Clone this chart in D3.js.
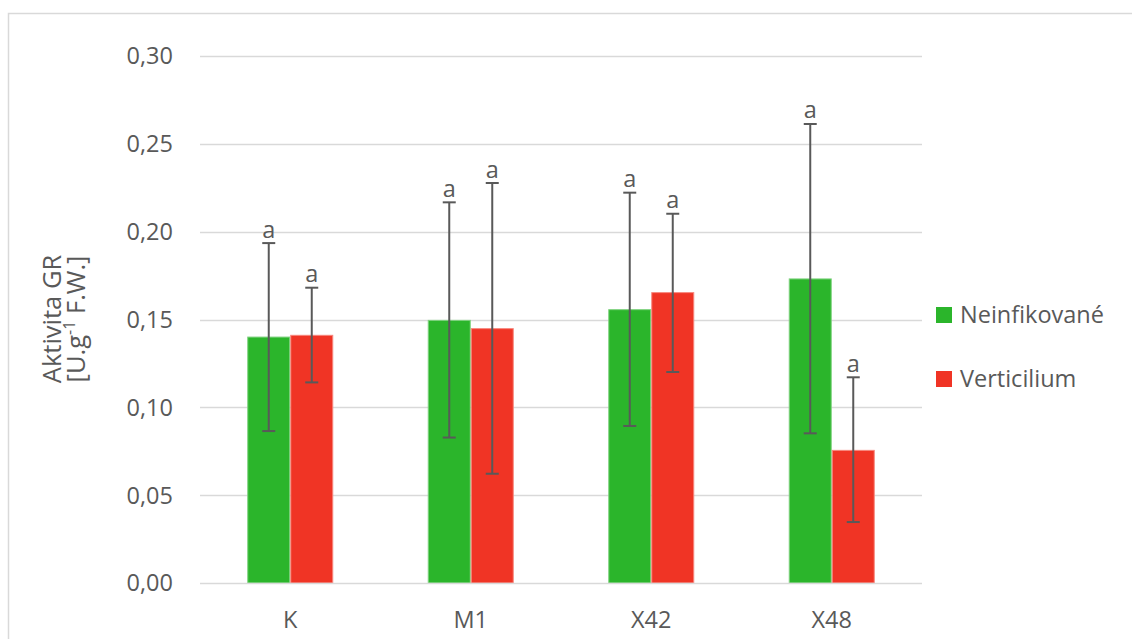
<!DOCTYPE html>
<html>
<head>
<meta charset="utf-8">
<script src="https://cdn.jsdelivr.net/npm/d3@7/dist/d3.min.js"></script>
<style>
  html, body { margin: 0; padding: 0; background: #fff; }
  svg { display: block; }
  text { font-family: "Open Sans", "Noto Sans", sans-serif; fill: #595959; }
</style>
</head>
<body>
<svg id="chart" width="1132" height="639"></svg>
<script>
// Glutathione reductase activity per line, uninfected vs. Verticillium
const categories = ["K", "M1", "X42", "X48"];
const seriesNames = ["Neinfikované", "Verticilium"];
const neinfMean = [0.140, 0.1495, 0.1556, 0.1731];
const neinfLow  = [0.0865, 0.0828, 0.0894, 0.0852];
const neinfHigh = [0.1935, 0.2167, 0.2222, 0.2613];
const vertMean  = [0.141, 0.1448, 0.1653, 0.0755];
const vertLow   = [0.1142, 0.0622, 0.1201, 0.0347];
const vertHigh  = [0.1681, 0.2277, 0.2102, 0.1171];
const sigLetters = [["a", "a", "a", "a"], ["a", "a", "a", "a"]];
const yTicks = [0, 0.05, 0.10, 0.15, 0.20, 0.25, 0.30];

const colors = ["#2bb52b", "#f03425"];
const edgeColors = ["#7fd27f", "#f7877d"];
const FS = 23.5;

const svg = d3.select("#chart");

// outer chart frame
svg.append("rect")
  .attr("x", 8.5).attr("y", 13.5)
  .attr("width", 1140).attr("height", 640)
  .attr("fill", "none").attr("stroke", "#d9d9d9").attr("stroke-width", 1.5);

const plot = { left: 200, right: 922, top: 56, bottom: 583 };

const y = d3.scaleLinear().domain([0, 0.30]).range([plot.bottom, plot.top]);
const x = d3.scaleBand().domain(categories).range([plot.left, plot.right])
  .paddingInner(0.5235).paddingOuter(0.5235 / 2);
const xs = d3.scaleBand().domain(seriesNames).range([0, x.bandwidth()]);

// gridlines
svg.append("g").selectAll("line").data(yTicks.slice(1)).join("line")
  .attr("x1", plot.left).attr("x2", plot.right)
  .attr("y1", d => Math.round(y(d)) + 0.5).attr("y2", d => Math.round(y(d)) + 0.5)
  .attr("stroke", "#d9d9d9").attr("stroke-width", 1.5);

// y tick labels
const fmt = d => d3.format(".2f")(d).replace(".", ",");
svg.append("g").selectAll("text").data(yTicks).join("text")
  .attr("x", 173).attr("y", d => y(d))
  .attr("dy", "0.36em")
  .attr("text-anchor", "end")
  .attr("font-size", FS)
  .text(fmt);

// series data
const series = [
  { name: seriesNames[0], mean: neinfMean, low: neinfLow, high: neinfHigh, letters: sigLetters[0] },
  { name: seriesNames[1], mean: vertMean, low: vertLow, high: vertHigh, letters: sigLetters[1] }
];
const rowsOf = s => categories.map((c, i) => ({ c, m: s.mean[i], lo: s.low[i], hi: s.high[i], l: s.letters[i] }));

series.forEach((s, si) => {
  svg.append("g").selectAll("rect").data(rowsOf(s)).join("rect")
    .attr("x", d => x(d.c) + xs(s.name) + 0.5)
    .attr("y", d => y(d.m))
    .attr("width", xs.bandwidth() - 1)
    .attr("height", d => y(0) - y(d.m))
    .attr("fill", colors[si])
    .attr("stroke", edgeColors[si]).attr("stroke-width", 1);
});

// x axis baseline
svg.append("line")
  .attr("x1", plot.left).attr("x2", plot.right)
  .attr("y1", plot.bottom + 0.5).attr("y2", plot.bottom + 0.5)
  .attr("stroke", "#d9d9d9").attr("stroke-width", 1.5);

// error bars and significance letters
series.forEach(s => {
  const g = svg.append("g");
  const rows = rowsOf(s);
  const cx = d => x(d.c) + xs(s.name) + xs.bandwidth() / 2;
  g.selectAll("line.v").data(rows).join("line").attr("class", "v")
    .attr("x1", cx).attr("x2", cx)
    .attr("y1", d => y(d.lo)).attr("y2", d => y(d.hi))
    .attr("stroke", "#595959").attr("stroke-width", 2);
  ["lo", "hi"].forEach(k => {
    g.selectAll("line." + k).data(rows).join("line").attr("class", k)
      .attr("x1", d => cx(d) - 6.5).attr("x2", d => cx(d) + 6.5)
      .attr("y1", d => y(d[k])).attr("y2", d => y(d[k]))
      .attr("stroke", "#595959").attr("stroke-width", 2);
  });
  g.selectAll("text").data(rows).join("text")
    .attr("x", cx)
    .attr("y", d => y(d.hi) - 5.5)
    .attr("text-anchor", "middle")
    .attr("font-size", FS)
    .text(d => d.l);
});

// category labels
svg.append("g").selectAll("text").data(categories).join("text")
  .attr("x", d => x(d) + x.bandwidth() / 2)
  .attr("y", 628)
  .attr("text-anchor", "middle")
  .attr("font-size", FS)
  .text(d => d);

// y axis title (two lines, rotated)
const TS = 25.5;
svg.append("text")
  .attr("transform", "translate(61,319) rotate(-90)")
  .attr("text-anchor", "middle")
  .attr("font-size", TS)
  .text("Aktivita GR");
const l2 = svg.append("text")
  .attr("transform", "translate(85,319) rotate(-90)")
  .attr("text-anchor", "middle")
  .attr("font-size", TS);
l2.append("tspan").text("[U.g");
l2.append("tspan").attr("font-size", 16).attr("dy", -10).text("-1");
l2.append("tspan").attr("dy", 10).text(" F.W.]");

// legend
const legend = svg.append("g").selectAll("g").data(seriesNames).join("g")
  .attr("transform", (d, i) => `translate(936,${307 + i * 64})`);
legend.append("rect").attr("width", 16).attr("height", 16)
  .attr("fill", (d, i) => colors[i]);
legend.append("text").attr("x", 24).attr("y", 8).attr("dy", "0.36em")
  .attr("font-size", FS).text(d => d);
</script>
</body>
</html>
